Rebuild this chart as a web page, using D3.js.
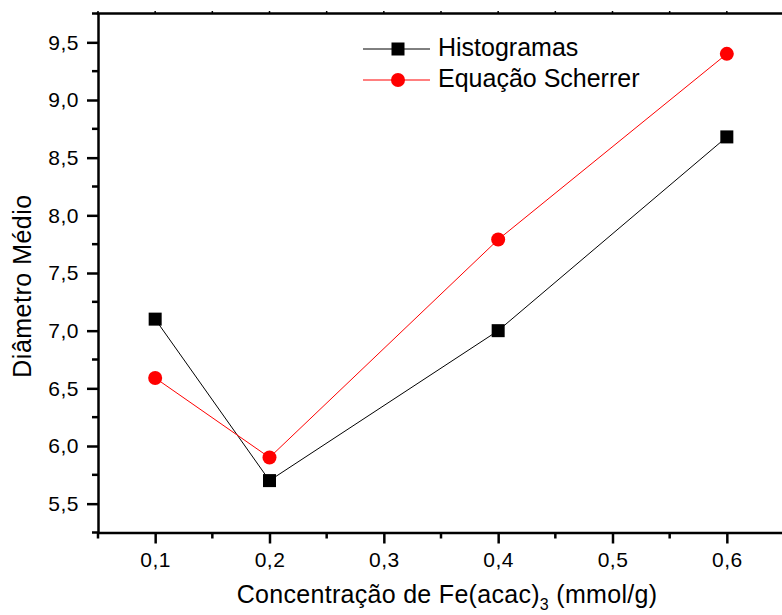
<!DOCTYPE html>
<html>
<head>
<meta charset="utf-8">
<script src="https://cdn.jsdelivr.net/npm/d3@7"></script>
<style>
  html, body { margin: 0; padding: 0; background: #fff; }
  svg { display: block; font-family: "Liberation Sans", Arial, sans-serif; }
</style>
</head>
<body>
<svg id="chart" width="782" height="615"></svg>
<script>
// Mean particle diameter vs. Fe(acac)3 concentration
const concentrations = [0.1, 0.2, 0.4, 0.6];
const histogramas = [7.1, 5.7, 7.0, 8.68];
const scherrer = [6.59, 5.9, 7.79, 9.4];
const xTicks = [0.1, 0.2, 0.3, 0.4, 0.5, 0.6];
const yTicks = [5.5, 6.0, 6.5, 7.0, 7.5, 8.0, 8.5, 9.0, 9.5];
const seriesNames = ["Histogramas", "Equação Scherrer"];

const svg = d3.select("#chart");
const fontFamily = '"Liberation Sans", Arial, sans-serif';
const plotLeft = 98, plotTop = 13.5, plotBottom = 532.5, plotRight = 784;

const x = d3.scaleLinear().domain([0.05, 0.65]).range([plotLeft, plotRight]);
const y = d3.scaleLinear().domain([5.25, 9.75]).range([plotBottom, plotTop]);

const fmt = d => d3.format(".1f")(d).replace(".", ",");

// minor ticks halfway between majors
const xMinor = d3.range(0.05, 0.651, 0.1).map(v => +v.toFixed(2));
const yMinor = d3.range(5.25, 9.76, 0.5).map(v => +v.toFixed(2));

// Bottom axis
const xAxis = svg.append("g").attr("transform", `translate(0,${plotBottom})`)
  .call(d3.axisBottom(x).tickValues(xTicks).tickFormat(fmt).tickSize(11).tickSizeOuter(0))
  .attr("font-family", fontFamily).attr("font-size", 21);
xAxis.select(".domain").attr("stroke-width", 2.5);
xAxis.selectAll(".tick line").attr("stroke-width", 2.5);
xAxis.selectAll(".tick text").attr("y", 20).attr("dy", "0.71em")
  .attr("letter-spacing", 0.5).attr("fill", "#000");
svg.append("g").selectAll("line").data(xMinor).join("line")
  .attr("x1", d => x(d)).attr("x2", d => x(d))
  .attr("y1", plotBottom).attr("y2", plotBottom + 6)
  .attr("stroke", "#000").attr("stroke-width", 2.5);

// Left axis
const yAxis = svg.append("g").attr("transform", `translate(${plotLeft},0)`)
  .call(d3.axisLeft(y).tickValues(yTicks).tickFormat(fmt).tickSize(11).tickSizeOuter(0))
  .attr("font-family", fontFamily).attr("font-size", 21);
yAxis.select(".domain").attr("stroke-width", 2.5);
yAxis.selectAll(".tick line").attr("stroke-width", 2.5);
yAxis.selectAll(".tick text").attr("x", -19)
  .attr("letter-spacing", 0.5).attr("fill", "#000");
svg.append("g").selectAll("line").data(yMinor).join("line")
  .attr("x1", plotLeft).attr("x2", plotLeft - 6)
  .attr("y1", d => y(d)).attr("y2", d => y(d))
  .attr("stroke", "#000").attr("stroke-width", 2.5);

// Top frame line with small ticks
svg.append("line").attr("x1", plotLeft - 1.25).attr("x2", plotRight).attr("y1", plotTop).attr("y2", plotTop)
  .attr("stroke", "#000").attr("stroke-width", 2.5);
svg.append("g").selectAll("line").data(xTicks.concat(xMinor)).join("line")
  .attr("x1", d => x(d)).attr("x2", d => x(d))
  .attr("y1", plotTop).attr("y2", plotTop - 2.5)
  .attr("stroke", "#000").attr("stroke-width", 1.5);

// Series lines and markers
const line = d3.line().x((d, i) => x(concentrations[i])).y(d => y(d));
svg.append("path").datum(histogramas).attr("d", line)
  .attr("fill", "none").attr("stroke", "#000").attr("stroke-width", 1);
svg.append("path").datum(scherrer).attr("d", line)
  .attr("fill", "none").attr("stroke", "#ff0000").attr("stroke-width", 1);

const sq = 13;
svg.append("g").selectAll("rect").data(histogramas).join("rect")
  .attr("x", (d, i) => x(concentrations[i]) - sq / 2)
  .attr("y", d => y(d) - sq / 2)
  .attr("width", sq).attr("height", sq).attr("fill", "#000");
svg.append("g").selectAll("circle").data(scherrer).join("circle")
  .attr("cx", (d, i) => x(concentrations[i]))
  .attr("cy", d => y(d))
  .attr("r", 7).attr("fill", "#ff0000");

// Legend
const lg = svg.append("g").attr("transform", "translate(363,49)");
lg.append("line").attr("x1", 0).attr("x2", 67).attr("y1", 0).attr("y2", 0).attr("stroke", "#000").attr("stroke-width", 1);
lg.append("rect").attr("x", 35 - sq / 2).attr("y", -sq / 2).attr("width", sq).attr("height", sq).attr("fill", "#000");
lg.append("text").attr("x", 75).attr("y", 7).attr("font-size", 25).text(seriesNames[0]);
lg.append("line").attr("x1", 0).attr("x2", 67).attr("y1", 31).attr("y2", 31).attr("stroke", "#ff0000").attr("stroke-width", 1);
lg.append("circle").attr("cx", 35).attr("cy", 31).attr("r", 7).attr("fill", "#ff0000");
lg.append("text").attr("x", 75).attr("y", 38).attr("font-size", 25).text(seriesNames[1]);

// Axis titles
svg.append("text").attr("transform", "translate(31,286) rotate(-90)")
  .attr("text-anchor", "middle").attr("font-size", 25).attr("letter-spacing", 0.5)
  .text("Diâmetro Médio");
const xt = svg.append("text").attr("x", 447).attr("y", 603)
  .attr("text-anchor", "middle").attr("font-size", 25).attr("letter-spacing", 0.3);
xt.append("tspan").text("Concentração de Fe(acac)");
xt.append("tspan").attr("font-size", 16).attr("dy", 7).text("3");
xt.append("tspan").attr("dy", -7).text(" (mmol/g)");
</script>
</body>
</html>
